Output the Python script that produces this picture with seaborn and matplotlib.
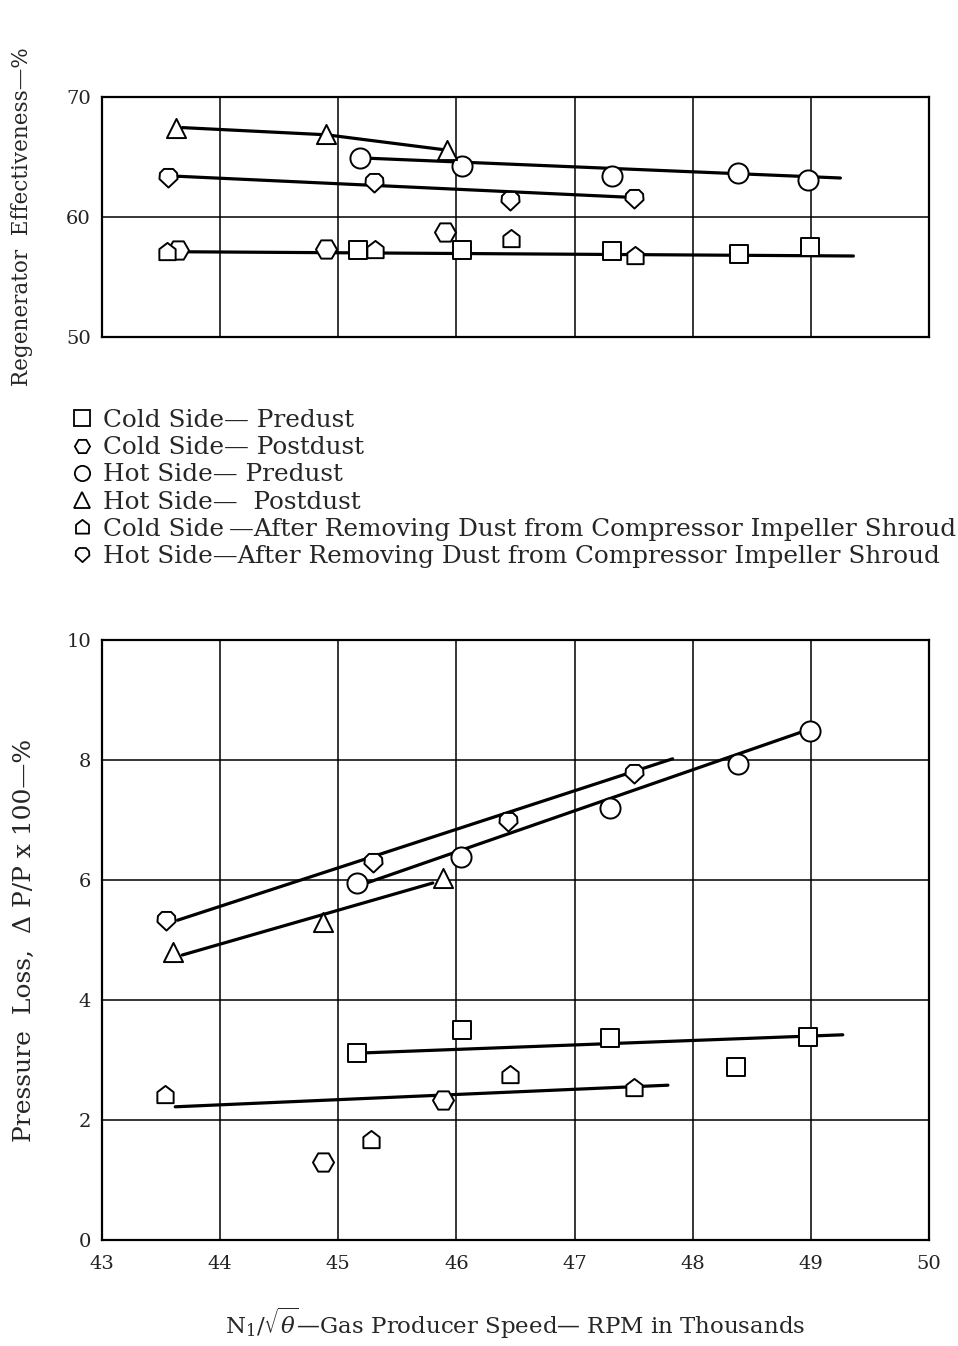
import numpy as np
import pandas as pd
import matplotlib
matplotlib.use("Agg")
import matplotlib.pyplot as plt
from matplotlib.lines import Line2D
from matplotlib.path import Path
from matplotlib.markers import MarkerStyle
import seaborn as sns

# ---------------- data ----------------
series_labels = [
    "Cold Side\u2014 Predust",
    "Cold Side\u2014 Postdust",
    "Hot Side\u2014 Predust",
    "Hot Side\u2014  Postdust",
    "Cold Side\u2009\u2014After Removing Dust from Compressor Impeller Shroud",
    "Hot Side\u2014After Removing Dust from Compressor Impeller Shroud",
]

# Top panel: regenerator effectiveness (%)
eff_cold_pre_x = [45.17, 46.05, 47.32, 48.39, 48.99]
eff_cold_pre_y = [57.25, 57.25, 57.2, 56.9, 57.5]
eff_cold_post_x = [43.64, 44.90, 45.90]
eff_cold_post_y = [57.25, 57.3, 58.75]
eff_hot_pre_x = [45.18, 46.05, 47.32, 48.38, 48.98]
eff_hot_pre_y = [64.9, 64.25, 63.4, 63.7, 63.1]
eff_hot_post_x = [43.63, 44.90, 45.92]
eff_hot_post_y = [67.4, 66.9, 65.6]
eff_cold_after_x = [43.55, 45.31, 46.46, 47.51]
eff_cold_after_y = [57.1, 57.25, 58.2, 56.75]
eff_hot_after_x = [43.56, 45.30, 46.45, 47.50]
eff_hot_after_y = [63.35, 62.9, 61.4, 61.6]

# Top panel faired lines
eff_line_hot_post_x = [43.68, 44.90, 45.90]
eff_line_hot_post_y = [67.45, 66.85, 65.6]
eff_line_hot_pre_x = [45.25, 49.25]
eff_line_hot_pre_y = [64.9, 63.25]
eff_line_hot_after_x = [43.63, 47.45]
eff_line_hot_after_y = [63.4, 61.65]
eff_line_cold_x = [43.73, 49.36]
eff_line_cold_y = [57.1, 56.75]

# Bottom panel: pressure loss (%)
dp_cold_pre_x = [45.16, 46.05, 47.30, 48.37, 48.98]
dp_cold_pre_y = [3.12, 3.5, 3.37, 2.88, 3.38]
dp_cold_post_x = [44.87, 45.89]
dp_cold_post_y = [1.3, 2.33]
dp_hot_pre_x = [45.16, 46.04, 47.30, 48.38, 48.99]
dp_hot_pre_y = [5.95, 6.38, 7.2, 7.93, 8.48]
dp_hot_post_x = [43.60, 44.87, 45.89]
dp_hot_post_y = [4.8, 5.3, 6.03]
dp_cold_after_x = [43.53, 45.28, 46.45, 47.50]
dp_cold_after_y = [2.42, 1.67, 2.75, 2.53]
dp_hot_after_x = [43.54, 45.29, 46.44, 47.50]
dp_hot_after_y = [5.33, 6.3, 6.98, 7.78]

# Bottom panel faired lines
dp_line_hot_after_x = [43.64, 47.83]
dp_line_hot_after_y = [5.33, 8.02]
dp_line_hot_pre_x = [45.24, 48.97]
dp_line_hot_pre_y = [5.95, 8.5]
dp_line_hot_post_x = [43.68, 45.80]
dp_line_hot_post_y = [4.75, 5.95]
dp_line_cold_pre_x = [45.24, 49.27]
dp_line_cold_pre_y = [3.12, 3.42]
dp_line_cold_low_x = [43.62, 47.79]
dp_line_cold_low_y = [2.22, 2.58]

x_ticks = [43, 44, 45, 46, 47, 48, 49, 50]
eff_ticks = [50, 60, 70]
dp_ticks = [0, 2, 4, 6, 8, 10]

# ---------------- style ----------------
sns.set_theme(style="white")
plt.rcParams["font.family"] = ["DejaVu Serif", "DejaVu Sans"]
plt.rcParams["mathtext.fontset"] = "dejavuserif"

house = MarkerStyle(Path([(0, 1), (0.85, 0.35), (0.85, -0.8), (-0.85, -0.8),
                          (-0.85, 0.35), (0, 1)], closed=True))
shield = MarkerStyle(Path([(0, -1), (0.9, -0.15), (0.85, 0.45), (0.45, 0.85),
                           (-0.45, 0.85), (-0.85, 0.45), (-0.9, -0.15), (0, -1)],
                          closed=True))
markers = ["s", "H", "o", "^", house, shield]
sizes = [170, 230, 210, 190, 190, 210]

fig = plt.figure(figsize=(9.58, 13.46), dpi=100)
W, H = 958, 1346
ax1 = fig.add_axes([102 / W, 1 - 337 / H, (929 - 102) / W, (337 - 97) / H])
ax2 = fig.add_axes([102 / W, 1 - 1240 / H, (929 - 102) / W, (1240 - 640) / H])

LW = 2.3


def pts(ax, x, y, i):
    sns.scatterplot(x=x, y=y, marker=markers[i], s=sizes[i], facecolor="white",
                    edgecolor="black", linewidth=1.4, ax=ax, zorder=4)


def line(ax, x, y):
    sns.lineplot(x=x, y=y, color="black", linewidth=LW, ax=ax, zorder=3,
                 estimator=None, sort=False)


# top panel
line(ax1, eff_line_hot_post_x, eff_line_hot_post_y)
line(ax1, eff_line_hot_pre_x, eff_line_hot_pre_y)
line(ax1, eff_line_hot_after_x, eff_line_hot_after_y)
line(ax1, eff_line_cold_x, eff_line_cold_y)
pts(ax1, eff_cold_pre_x, eff_cold_pre_y, 0)
pts(ax1, eff_cold_post_x, eff_cold_post_y, 1)
pts(ax1, eff_hot_pre_x, eff_hot_pre_y, 2)
pts(ax1, eff_hot_post_x, eff_hot_post_y, 3)
pts(ax1, eff_cold_after_x, eff_cold_after_y, 4)
pts(ax1, eff_hot_after_x, eff_hot_after_y, 5)

# bottom panel
line(ax2, dp_line_hot_after_x, dp_line_hot_after_y)
line(ax2, dp_line_hot_pre_x, dp_line_hot_pre_y)
line(ax2, dp_line_hot_post_x, dp_line_hot_post_y)
line(ax2, dp_line_cold_pre_x, dp_line_cold_pre_y)
line(ax2, dp_line_cold_low_x, dp_line_cold_low_y)
pts(ax2, dp_cold_pre_x, dp_cold_pre_y, 0)
pts(ax2, dp_cold_post_x, dp_cold_post_y, 1)
pts(ax2, dp_hot_pre_x, dp_hot_pre_y, 2)
pts(ax2, dp_hot_post_x, dp_hot_post_y, 3)
pts(ax2, dp_cold_after_x, dp_cold_after_y, 4)
pts(ax2, dp_hot_after_x, dp_hot_after_y, 5)

for ax, yt, ylim in [(ax1, eff_ticks, (50, 70)), (ax2, dp_ticks, (0, 10))]:
    ax.set_xlim(43, 50)
    ax.set_ylim(*ylim)
    ax.set_xticks(x_ticks)
    ax.set_yticks(yt)
    ax.grid(True, color="black", linewidth=1.1)
    ax.set_axisbelow(True)
    for sp in ax.spines.values():
        sp.set_color("black")
        sp.set_linewidth(1.6)
    ax.tick_params(axis="both", length=0, labelsize=14, colors="#222222")
    ax.tick_params(axis="y", pad=8)
    ax.tick_params(axis="x", pad=11)
    ax.set_xlabel("")
    ax.set_ylabel("")

ax1.set_xticklabels([])
ax1.set_ylabel("Regenerator  Effectiveness\u2014%", fontsize=15.5, labelpad=24)
ax2.set_ylabel("Pressure  Loss,  \u0394 P/P x 100\u2014%", fontsize=18, labelpad=22)
ax2.set_xlabel(r"N$_1$/$\sqrt{\theta}$" + "\u2014Gas Producer Speed\u2014 RPM in Thousands",
               fontsize=16.5, labelpad=23)

handles = [Line2D([], [], linestyle="none", marker=m, markersize=11,
                  markerfacecolor="white", markeredgecolor="black",
                  markeredgewidth=1.3) for m in markers]
fig.legend(handles, series_labels, loc="upper left",
           bbox_to_anchor=(71 / W, 1 - 409 / H), frameon=False,
           fontsize=17.8, handlelength=0.88, handletextpad=0.4,
           labelspacing=0.17, borderpad=0, borderaxespad=0)

fig.savefig("out.png", dpi=100, facecolor="white")
